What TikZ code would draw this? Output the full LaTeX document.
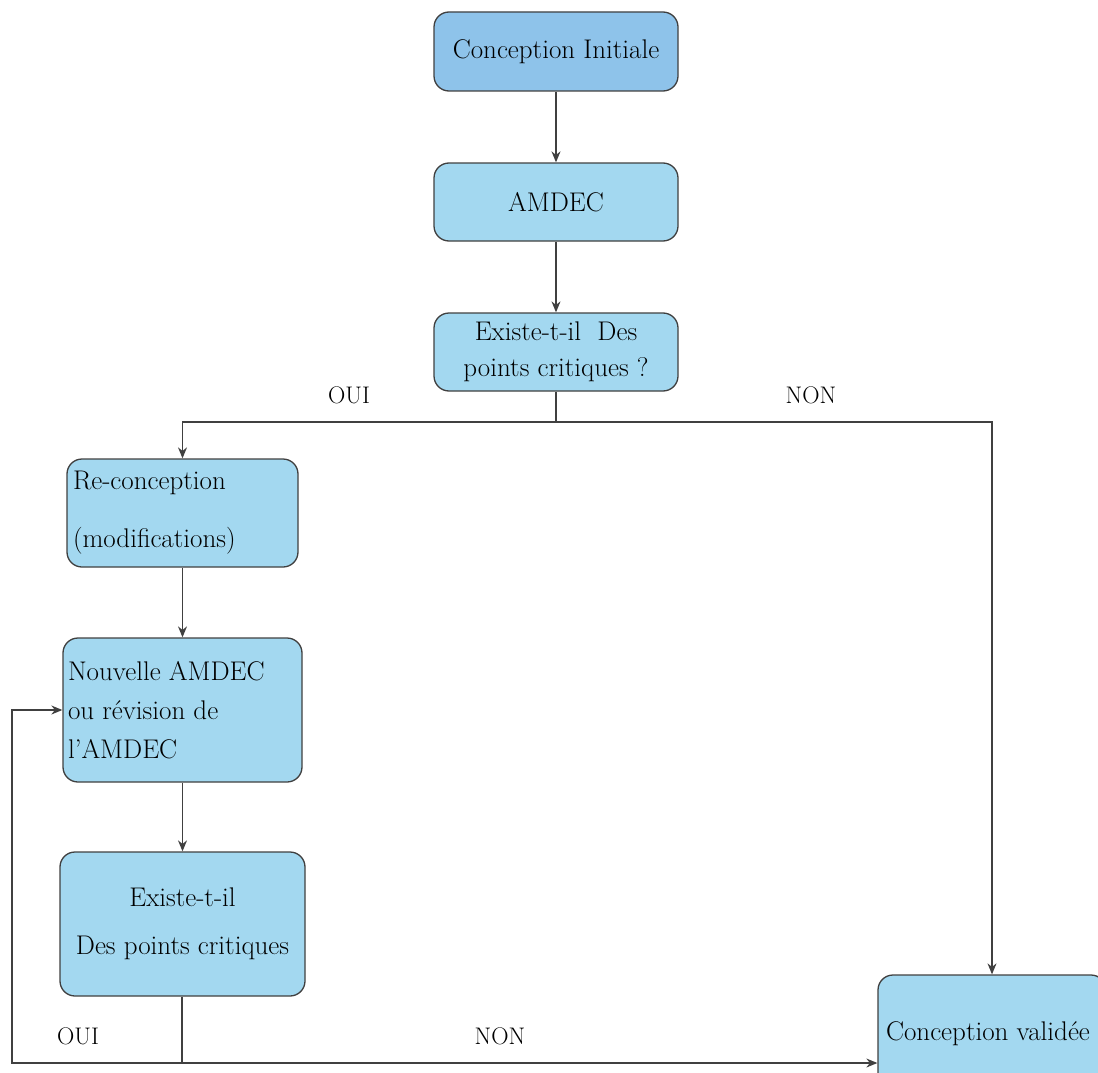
\documentclass[tikz,border=0pt]{standalone}
\usepackage{fontspec}
\usetikzlibrary{arrows.meta}
\definecolor{boxtop}{HTML}{8EC3EA}
\definecolor{boxfill}{HTML}{A3D8F0}
\definecolor{edge}{HTML}{404040}
\tikzset{
  stepbox/.style={draw=edge, line width=1.3pt, fill=boxfill, rounded corners=15pt,
    inner sep=0pt, font=\fontsize{27}{36}\selectfont, text=black},
  link/.style={draw=edge, line width=1.3pt},
  arr/.style={link, -{Stealth[length=11pt,width=9pt]}},
  lbl/.style={font=\fontsize{24}{28}\selectfont, text=black, inner sep=0pt}
}
\begin{document}
\begin{tikzpicture}[x=1pt,y=-1pt]
\useasboundingbox (0,0) rectangle (1098,1073);
\clip (0,0) rectangle (1098,1073);
% main column
\node[stepbox, fill=boxtop, minimum width=244pt, minimum height=79pt] (b1) at (556,51.5) {Conception Initiale};
\node[stepbox, minimum width=244pt, minimum height=78pt] (b2) at (556,202) {AMDEC};
\node[stepbox, minimum width=244pt, minimum height=78pt, align=center] (b3) at (556,352)
  {\fontsize{27}{37}\selectfont Existe-t-il\ \ Des\\points critiques ?};
% rework column
\node[stepbox, minimum width=231pt, minimum height=108pt] (b4) at (182.5,513)
  {\parbox{219pt}{\fontsize{27}{58}\selectfont Re-conception\\(modifications)}};
\node[stepbox, minimum width=239pt, minimum height=144pt] (b5) at (182.5,710)
  {\parbox{229pt}{\fontsize{27}{39}\selectfont Nouvelle AMDEC\\ou révision de\\l’AMDEC}};
\node[stepbox, minimum width=245pt, minimum height=144pt] (b6) at (182.5,924)
  {\parbox{235pt}{\centering\fontsize{27}{48}\selectfont Existe-t-il\\Des points critiques}};
% validated design
\node[stepbox, minimum width=228pt, minimum height=118pt] (b7) at (992,1034)
  {\hspace*{-8pt}Conception validée};
% connectors
\draw[arr] (b1) -- (b2);
\draw[arr] (b2) -- (b3);
\coordinate (split) at (556,422);
\coordinate (turn) at (182,1063);
\coordinate (back) at (12,1063);
\draw[link, line width=2pt] (b3.south) -- (split);
\draw[arr] (split) -| (b4.north);
\draw[arr] (split) -| (b7.north);
\draw[arr] (b4) -- (b5);
\draw[arr] (b5) -- (b6);
\draw[link] (b6.south -| turn) -- (turn);
\draw[arr] (turn) -- (back) |- (b5.west);
\draw[arr] (turn) -- (b7.west |- turn);
% branch labels
\node[lbl] (oui1) at (349,395) {OUI};
\node[lbl] (non1) at (811,395) {NON};
\node[lbl] (oui2) at (78,1036) {OUI};
\node[lbl] (non2) at (500,1036) {NON};
\end{tikzpicture}
\end{document}
